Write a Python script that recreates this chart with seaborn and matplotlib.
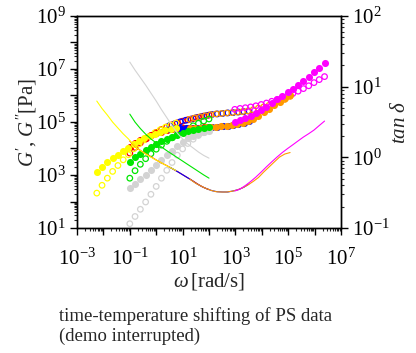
import numpy as np
import pandas as pd
import seaborn as sns
import matplotlib
matplotlib.use("Agg")
import matplotlib.pyplot as plt
from matplotlib.ticker import LogLocator, FuncFormatter, NullFormatter

# measurement frequencies (rad/s), 5 points per decade
omega_grid = [0.1, 0.158, 0.251, 0.398, 0.631, 1.0, 1.58, 2.51, 3.98, 6.31,
              10.0, 15.8, 25.1, 39.8, 63.1, 100.0, 158.0, 251.0, 398.0, 631.0]

series = ["red", "blue", "orange", "magenta", "gray", "green", "yellow"]
colors = {"red": "#ff0000", "blue": "#0000ff", "orange": "#ff9900",
          "magenta": "#ff00ff", "gray": "#d3d3d3", "green": "#00e600",
          "yellow": "#ffff00"}
# shift factors a_T applied so far (demo interrupted: gray, green not shifted yet)
shift = {"red": 1.0, "blue": 32.7, "orange": 187.0, "magenta": 9490.0,
         "gray": 1.0, "green": 1.0, "yellow": 0.0562}

# G'' (loss modulus, filled) and G' (storage modulus, open), Pa
gray_Gpp = [323, 466, 682, 1009, 1518, 2323, 3589, 5495, 8337, 12320, 17590,
            23850, 30410, 36810, 41980, 45730]
gray_Gp = [14.5, 27.2, 50.8, 95.8, 187, 371, 757, 1504, 2963, 5587, 9658,
           15440, 22430, 30950, 39470, 46950]
green_Gpp = [3095, 4576, 6475, 8777, 11590, 15040, 18860, 23230, 28130, 33460,
             39130, 44960, 50790, 56350, 61460, 65880]
green_Gp = [757, 1453, 2534, 4123, 6364, 9410, 13440, 18700, 25340, 33760,
            44200, 56850, 71890, 89310, 109100, 129800]
yellow_Gpp = [1298, 2004, 3015, 4305, 5937, 8050, 10630, 14530, 19190, 24260,
              30410, 36810, 43420, 49470, 54420, 59370]
yellow_Gp = [207.5, 408.7, 760.5, 1367, 2283, 3746, 5834, 9743, 14920, 21110,
             29380, 39290, 50790, 63640, 76380, 91290]
red_Gpp = [11390, 15710, 20390, 25340, 30950, 37140, 43420, 49470, 54420,
           58340, 60930, 62000, 62000, 62000, 62540, 63640]
red_Gp = [6705, 11000, 16270, 22530, 30410, 40500, 52120, 64750, 78390, 92480,
          107200, 121100, 134400, 150400, 166900, 182100]
blue_Gpp = [53480, 57340, 60400, 62000, 62000, 62000, 62000, 63100, 64750,
            65880, 67660, 71260, 75710, 83320, 92480, 108100]
blue_Gp = [73790, 87000, 101700, 115900, 128600, 144700, 159900, 175900,
           191900, 202100, 209300, 220500, 226300, 238400, 245800, 257800]
orange_Gpp = [62000, 62000, 62000, 62540, 64190, 65880, 67660, 70660, 75060,
              81880, 91680, 106300, 132100, 172800, 230300, 309500, 423100,
              578500, 791000, 1081000]
orange_Gp = [125700, 142300, 156400, 171600, 188000, 202000, 209500, 218800,
             226500, 236800, 247500, 261900, 290400, 333800, 371800, 424600,
             492800, 573000, 710100, 924800]
magenta_Gpp = [1.000e5, 1.159e5, 1.379e5, 1.684e5, 2.148e5, 2.837e5, 3.812e5,
               5.212e5, 7.065e5, 9.574e5, 1.298e6, 1.789e6, 2.491e6, 3.526e6,
               5.032e6, 7.440e6, 1.120e7, 1.684e7]
magenta_Gp = [2.997e5, 3.255e5, 3.455e5, 3.703e5, 4.081e5, 4.580e5, 5.194e5,
              6.037e5, 6.997e5, 8.189e5, 9.743e5, 1.188e6, 1.456e6, 1.820e6,
              2.327e6, 3.059e6, 3.975e6, 5.166e6]

Gpp = {"gray": gray_Gpp, "green": green_Gpp, "yellow": yellow_Gpp,
       "red": red_Gpp, "blue": blue_Gpp, "orange": orange_Gpp,
       "magenta": magenta_Gpp}
Gp = {"gray": gray_Gp, "green": green_Gp, "yellow": yellow_Gp,
      "red": red_Gp, "blue": blue_Gp, "orange": orange_Gp,
      "magenta": magenta_Gp}

rows = []
for s in series:
    for k in range(len(Gpp[s])):
        rows.append({"series": s,
                     "omega": omega_grid[k] * shift[s],
                     "Gpp": Gpp[s][k],
                     "Gp": Gp[s][k],
                     "tand": Gpp[s][k] / Gp[s][k]})
df = pd.DataFrame(rows)

sns.set_style("ticks")
plt.rcParams["font.family"] = ["Liberation Serif", "DejaVu Serif"]
plt.rcParams["mathtext.fontset"] = "custom"
plt.rcParams["mathtext.rm"] = "Liberation Serif"
plt.rcParams["mathtext.it"] = "Liberation Serif:italic"
plt.rcParams["mathtext.bf"] = "Liberation Serif:bold"

fig = plt.figure(figsize=(4.16, 3.53), dpi=100)
ax = fig.add_axes([77 / 416, 1 - 228 / 353, 264 / 416, 212 / 353])
ax.set_xscale("log")
ax.set_yscale("log")

for s in series:
    d = df[df["series"] == s]
    c = colors[s]
    sns.scatterplot(x=d["omega"], y=d["Gp"], color=c, facecolor="none",
                    edgecolor=c, linewidth=0.9, s=16, ax=ax, legend=False,
                    zorder=2)
    sns.scatterplot(x=d["omega"], y=d["Gpp"], color=c, edgecolor=c,
                    linewidth=0, s=26, ax=ax, legend=False, zorder=3)

ax.set_xlim(1e-3, 1e7)
ax.set_ylim(1e1, 1e9)

ax2 = ax.twinx()
ax2.set_yscale("log")
sns.lineplot(data=df, x="omega", y="tand", hue="series", palette=colors,
             estimator=None, sort=True, linewidth=0.8, legend=False, ax=ax2)
ax2.set_ylim(0.1, 100)
ax2.set_xlim(1e-3, 1e7)


def odd_decades(v, pos):
    e = int(np.round(np.log10(v)))
    if e % 2 == 0:
        return ""
    return r"$\mathdefault{10^{%d}}$" % e


def all_decades(v, pos):
    e = int(np.round(np.log10(v)))
    return r"$\mathdefault{10^{%d}}$" % e


for a in (ax.xaxis, ax.yaxis, ax2.yaxis):
    a.set_major_locator(LogLocator(base=10, numticks=20))
    a.set_minor_locator(LogLocator(base=10, subs=np.arange(2, 10), numticks=20))
    a.set_minor_formatter(NullFormatter())
ax.xaxis.set_major_formatter(FuncFormatter(odd_decades))
ax.yaxis.set_major_formatter(FuncFormatter(odd_decades))
ax2.yaxis.set_major_formatter(FuncFormatter(all_decades))

for a in (ax, ax2):
    a.tick_params(which="major", direction="out", length=5, width=1,
                  labelsize=15, pad=3, colors="black")
    a.tick_params(which="minor", direction="out", length=2.5, width=0.8)
    for sp in a.spines.values():
        sp.set_linewidth(1)
        sp.set_color("black")
ax.tick_params(which="both", top=False, right=False)
ax.tick_params(axis="x", which="major", pad=10)
ax2.tick_params(which="both", top=False, left=False, right=True)

ax.set_xlabel(r"$\omega\,$[rad/s]", fontsize=15, labelpad=1)
ax.set_ylabel(r"$G^{\prime}$, $G^{\prime\prime}$[Pa]", fontsize=15, labelpad=-2)
ax2.set_ylabel(r"$tan\ \delta$", fontsize=15, labelpad=1)

fig.text(59 / 416, 1 - 326 / 353,
         "time-temperature shifting of PS data\n(demo interrupted)",
         fontsize=13.5, va="center", ha="left", linespacing=1.2)

fig.savefig("out.png", dpi=100)
